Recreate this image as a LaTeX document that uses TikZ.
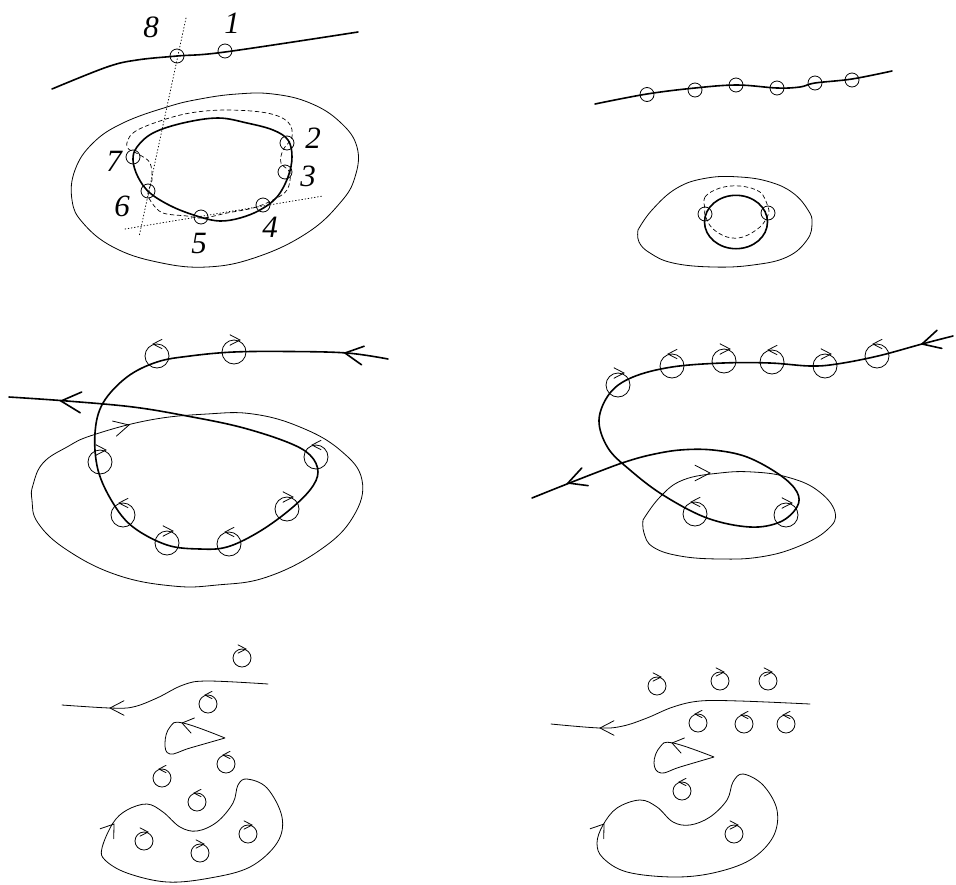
\documentclass[tikz,border=0pt]{standalone}
\usepackage{fontspec}
\setmainfont{Liberation Serif}
\usepackage{tikz}
\usetikzlibrary{positioning,calc}

\begin{document}
\begin{tikzpicture}[
  x=1pt, y=-1pt,
  line cap=round,
  curve/.style={line width=0.8pt},
  strand/.style={line width=1.6pt},
  cut/.style={line width=0.7pt, dash pattern=on 4pt off 3pt},
  guide/.style={line width=0.8pt, dash pattern=on 0.8pt off 2.4pt},
  ringtiny/.style={draw, circle, line width=0.8pt, inner sep=0pt, outer sep=0pt, minimum size=14pt},
  ringmid/.style={ringtiny, minimum size=18pt},
  ringbig/.style={ringtiny, minimum size=24pt},
  lbl/.style={font=\fontsize{31}{31}\selectfont\itshape, inner sep=0pt},
  barb/.pic={\draw (-1,-.52) -- (0,0) -- (-1,.52);},
  barbwide/.pic={\draw (-1,-.7) -- (0,0) -- (-1,.7);}
]
  \useasboundingbox (0,0) rectangle (956,884);

  % top left
  \draw[strand] plot[smooth, tension=0.6] coordinates {(52,89) (107,67) (137,60) (177,56) (225,52) (358,32)};
  \draw[curve] plot[smooth cycle, tension=0.7] coordinates {(237,94) (273,94) (310,103) (340,122) (357,147) (355,177) (340,203) (307,233) (257,257) (207,267) (157,262) (113,247) (83,223) (72,200) (75,170) (93,143) (123,123) (167,107) (200,99)};
  \draw[strand] plot[smooth cycle, tension=0.6] coordinates {(218,118) (247,123) (273,130) (288,140) (292,157) (288,177) (277,197) (260,210) (240,218) (220,221) (200,217) (173,207) (150,193) (138,177) (133,160) (137,147) (153,133) (183,123)};
  \draw[cut] plot[smooth cycle, tension=0.6] coordinates {(127,147) (133,133) (157,122) (190,113) (227,110) (267,113) (288,122) (292,137) (283,150) (281,163) (290,173) (287,190) (273,200) (253,208) (227,213) (203,218) (187,216) (163,213) (152,203) (148,193) (152,180) (150,163) (140,155)};
  \coordinate (g1) at (186,18);
  \coordinate (g2) at (139,237);
  \coordinate (g3) at (125,229);
  \coordinate (g4) at (323,196);
  \draw[guide] (g1) -- (g2);
  \draw[guide] (g3) -- (g4);
  \foreach \px/\py [count=\i] in {225/51,287/143,285/172,263/205,201/217,148/191,133/157,177/56}
    \node[ringtiny] (pt\i) at (\px,\py) {};
  \foreach \txt/\px/\py in {1/232/23,2/313/138,3/308/176,4/270/227,5/199/243,6/122/206,7/114/161,8/151/27}
    \node[lbl] (lab\txt) at (\px,\py) {\txt};

  % top right
  \draw[strand] plot[smooth, tension=0.6] coordinates {(595,104) (647,94) (695,88) (737,85) (777,88) (800,87) (815,83) (852,79) (892,71)};
  \draw[curve] plot[smooth, tension=0.7] coordinates {(638,230) (652,210) (677,188) (707,178) (740,177) (770,182) (793,193) (808,210) (812,223) (807,240) (787,257) (753,265) (713,267) (673,263) (650,253) (639,242) (638,230)};
  \draw[strand] (736,222) ellipse (31.5 and 26.7);
  \draw[cut] plot[smooth cycle, tension=0.6] coordinates {(705,210) (705,197) (720,188) (740,186) (760,192) (768,207) (768,215) (760,227) (743,237) (727,237) (712,228) (705,215)};
  \foreach \px/\py [count=\i] in {647/94.5,695/90,736/85,777/88,815/83,852/80,705/214,768/213}
    \node[ringtiny] (qt\i) at (\px,\py) {};

  % middle left
  \draw[strand] plot[smooth, tension=0.6] coordinates {(388,359) (347,353) (290,351.5) (234,352) (190,356) (157,362) (127,377) (103,403) (95,433) (98,470) (113,503) (133,527) (167,545) (200,549) (227,547) (257,533) (287,512) (310,490) (318,472) (310,455) (287,442) (240,427) (187,416) (133,407) (67,401) (9,397)};
  \draw[curve] plot[smooth cycle, tension=0.7] coordinates {(32,500) (33,485) (43,463) (67,447) (93,435) (150,420) (207,414) (253,414) (300,427) (340,450) (362,480) (353,517) (320,550) (267,577) (217,585) (173,586) (117,575) (67,550) (38,523)};
  \pic[scale=18, rotate=172, line width=1.6pt] at (345,353) {barb};
  \pic[scale=20, rotate=176, line width=1.6pt] at (61,401) {barb};
  \pic[scale=15, rotate=14, line width=0.8pt] at (129,425) {barb};

  % middle right
  \draw[strand] plot[smooth, tension=0.6] coordinates {(953,336) (922,344) (878,356) (837,364) (810,366) (770,363) (723,363) (672,367) (633,377) (610,393) (599,420) (608,448) (630,470) (663,495) (707,518) (750,527) (780,522) (797,507) (797,492) (780,475) (747,457) (713,450) (680,450) (650,455) (625,462) (603,470) (567,484) (532,498)};
  \draw[curve] plot[smooth, tension=0.7] coordinates {(643,520) (660,497) (683,480) (720,473) (753,472) (787,477) (817,490) (835,512) (827,530) (797,547) (760,557) (720,559) (680,556) (653,547) (644,533) (643,520)};
  \pic[scale=18, rotate=195, line width=1.6pt] at (922,344) {barb};
  \pic[scale=18, rotate=200, line width=1.6pt] at (568,483) {barb};
  \pic[scale=15, rotate=0, line width=0.8pt] at (710,473) {barb};

  % rings with a mark, middle row
  \foreach \px/\py [count=\i] in {157/356,123/515,229/544,316/457,672/366,772/362,877/356,695/514}
  {
    \node[ringbig] (ml\i) at (\px,\py) {};
    \pic[scale=9, rotate=180, line width=0.8pt] at ([xshift=-4pt]ml\i.north) {barb};
  }
  \foreach \px/\py [count=\i] in {234/352,100/462,167/543,287/509,618/385,724/361,825/366,786/515}
  {
    \node[ringbig] (mr\i) at (\px,\py) {};
    \pic[scale=10, rotate=0, line width=0.8pt] at ([xshift=6pt]mr\i.north) {barb};
  }

  % bottom left
  \draw[curve] plot[smooth, tension=0.6] coordinates {(62,705) (110,708) (133,707) (157,698) (183,685) (207,681) (268,684)};
  \draw[curve] plot[smooth, tension=0.7] coordinates {(225,738) (183,723) (170,727) (165,743) (170,754) (190,748) (225,738)};
  \draw[curve] plot[smooth cycle, tension=0.6] coordinates {(102,848) (113,823) (127,810) (147,804) (163,812) (180,827) (197,831) (217,822) (233,803) (238,785) (247,779) (267,788) (282,817) (277,843) (250,867) (210,878) (167,882) (127,873) (105,860)};
  \pic[scale=14, rotate=180, line width=0.8pt] at (110,708) {barb};
  \pic[scale=11, rotate=167, line width=0.8pt] at (182,723) {barbwide};
  \pic[scale=12, rotate=54, line width=0.8pt] at (114,824) {barbwide};

  % bottom right
  \draw[curve] plot[smooth, tension=0.6] coordinates {(551,724) (600,728) (623,726) (647,718) (673,707) (700,701) (740,701) (810,704)};
  \draw[curve] plot[smooth, tension=0.7] coordinates {(714,757) (673,743) (660,747) (654,763) (661,773) (680,767) (714,757)};
  \draw[curve] plot[smooth cycle, tension=0.6] coordinates {(597,843) (603,825) (617,808) (640,800) (657,807) (673,822) (690,825) (710,817) (727,800) (733,782) (743,774) (763,785) (777,810) (773,837) (750,860) (713,873) (673,877) (627,872) (603,858)};
  \pic[scale=14, rotate=180, line width=0.8pt] at (600,728) {barb};
  \pic[scale=11, rotate=167, line width=0.8pt] at (672,743) {barbwide};
  \pic[scale=12, rotate=54, line width=0.8pt] at (604,824) {barbwide};

  % rings with a mark, bottom row
  \foreach \px/\py [count=\i] in {208/704,226/764,162/778,197/802,698/723,744/724,786/724,682/791}
  {
    \node[ringmid] (bl\i) at (\px,\py) {};
    \pic[scale=7, rotate=180, line width=0.8pt] at ([xshift=-3pt]bl\i.north) {barb};
  }
  \foreach \px/\py [count=\i] in {242/658,144/841,200/853,248/834,657/686,720/681,768/681,734/834}
  {
    \node[ringmid] (br\i) at (\px,\py) {};
    \pic[scale=8, rotate=0, line width=0.8pt] at ([xshift=4pt]br\i.north) {barb};
  }
\end{tikzpicture}
\end{document}
